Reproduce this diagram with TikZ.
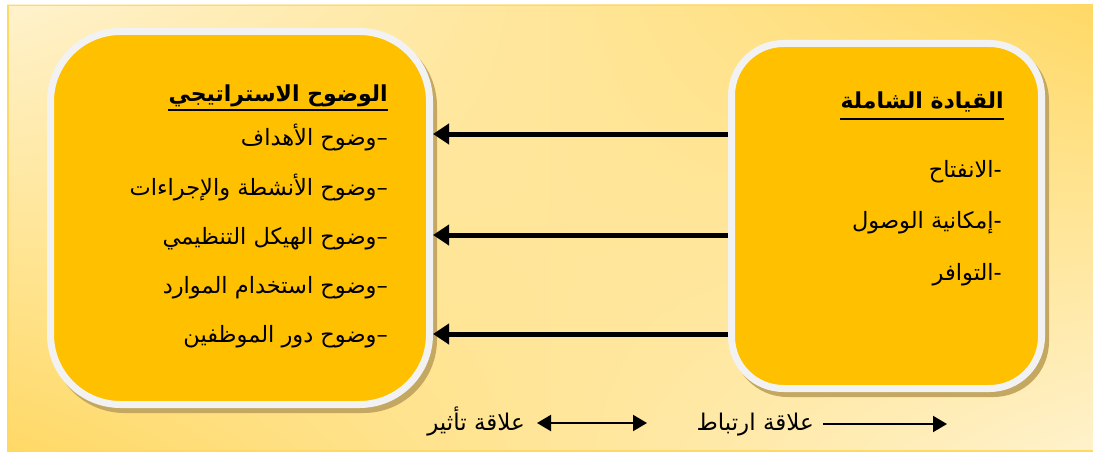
\documentclass[tikz,border=0pt]{standalone}
\usepackage{fontspec}
\newfontfamily\arabicfont[Script=Arabic]{DejaVu Sans}
\TeXXeTstate=1
\usetikzlibrary{arrows.meta,shadings}
\definecolor{cream}{HTML}{FFF2CC}
\definecolor{yel}{HTML}{FFD966}
\definecolor{framec}{HTML}{FFD966}
\definecolor{boxfill}{HTML}{FFC000}
\definecolor{boxrim}{HTML}{F2F2F2}
\definecolor{shadec}{HTML}{C4A862}
\tikzset{
  boxshape/.style={rounded corners=#1, line width=7pt, draw=boxrim, fill=boxfill, inner sep=0pt},
  shadowshape/.style={rounded corners=#1, line width=7pt, draw=shadec, fill=shadec, inner sep=0pt},
  bigarrow/.style={line width=5pt, -{Triangle[length=16pt,width=20pt]}},
  legarrow/.style={line width=2pt},
  legtip/.tip={Triangle[length=14pt,width=16pt]},
  artext/.style={font=\arabicfont\fontsize{22.5}{25}\selectfont, anchor=base east, inner sep=0pt},
  artitle/.style={font=\arabicfont\bfseries\fontsize{22}{25}\selectfont, anchor=base east, inner sep=0pt},
  legtext/.style={font=\arabicfont\fontsize{23}{25}\selectfont, anchor=base east, inner sep=0pt},
  uline/.style={line width=2.5pt}
}
\begin{document}
\begin{tikzpicture}[x=1pt,y=-1pt]
\useasboundingbox (0,0) rectangle (1093,452);
\shade[upper left=cream, upper right=yel, lower left=yel, lower right=cream] (7,5) rectangle (1093,452);
\draw[framec, line width=1.5pt] (7.75,5.75) rectangle (1095,451);
% boxes
\node[shadowshape=70pt, minimum width=379pt, minimum height=373pt] (Lsh) at (244,223) {};
\node[boxshape=70pt, minimum width=379pt, minimum height=373pt] (L) at (240,218) {};
\node[shadowshape=52pt, minimum width=310pt, minimum height=345pt] (Rsh) at (890.5,221) {};
\node[boxshape=52pt, minimum width=310pt, minimum height=345pt] (R) at (886.5,216) {};
% arrows
\draw[bigarrow] (R.west |- 0,134) -- (L.east |- 0,134);
\draw[bigarrow] (R.west |- 0,235) -- (L.east |- 0,235);
\draw[bigarrow] (R.west |- 0,334) -- (L.east |- 0,334);
% left box text
\node[artitle] (LT) at (388,101) {\beginR الوضوح الاستراتيجي\endR};
\draw[uline] ([yshift=-9pt]LT.base west) -- ([yshift=-9pt]LT.base east);
\node[artext] (L1) at (388,146) {\beginR –وضوح الأهداف\endR};
\node[artext] (L2) at (388,195) {\beginR –وضوح الأنشطة والإجراءات\endR};
\node[artext] (L3) at (388,244) {\beginR –وضوح الهيكل التنظيمي\endR};
\node[artext] (L4) at (388,293) {\beginR –وضوح استخدام الموارد\endR};
\node[artext] (L5) at (388,342) {\beginR –وضوح دور الموظفين\endR};
% right box text
\node[artitle] (RT) at (1004,109) {\beginR القيادة الشاملة\endR};
\draw[uline] ([yshift=-10pt]RT.base west) -- ([yshift=-10pt]RT.base east);
\node[artext] (R1) at (1002,177) {\beginR -الانفتاح\endR};
\node[artext] (R2) at (1002,228) {\beginR -إمكانية الوصول\endR};
\node[artext] (R3) at (1002,280) {\beginR -التوافر\endR};
% legend
\node[legtext] (G1) at (525,430) {\beginR علاقة تأثير\endR};
\coordinate (d1) at (537,423);
\coordinate (d2) at (647,423);
\draw[legarrow, legtip-legtip] (d1) -- (d2);
\node[legtext] (G2) at (814,430) {\beginR علاقة ارتباط\endR};
\coordinate (s1) at (823,424);
\coordinate (s2) at (947,424);
\draw[legarrow, -legtip] (s1) -- (s2);
\end{tikzpicture}
\end{document}
